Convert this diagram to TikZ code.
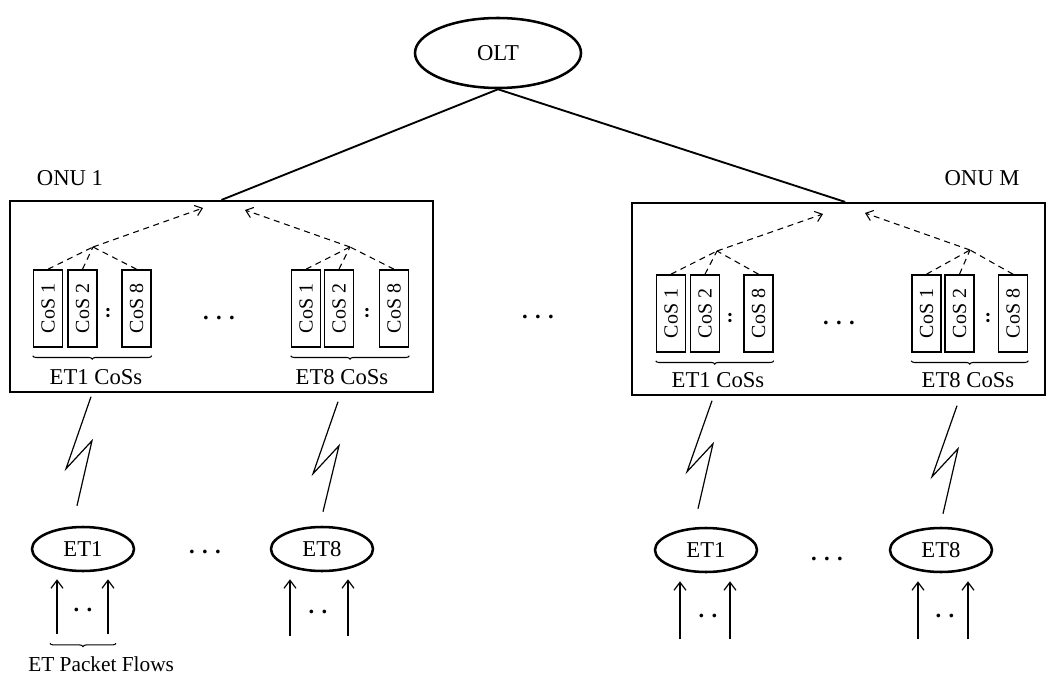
\documentclass[tikz,border=0pt]{standalone}
\usepackage{fontspec}
\setmainfont{Liberation Serif}
\usetikzlibrary{shapes.geometric,arrows.meta,decorations.pathreplacing}

\newcommand{\hdots}{\textbf{.\hspace{5.5pt}.\hspace{5.5pt}.}}
\newcommand{\twodots}{\textbf{.\hspace{5.5pt}.}}

\begin{document}
\begin{tikzpicture}[x=0.75pt,y=-0.75pt,
  lbl/.style={font=\fontsize{17}{20}\selectfont},
  oval/.style={draw, ellipse, line width=1.9pt, inner sep=0pt, lbl},
  onubox/.style={draw, rectangle, line width=1.6pt, inner sep=0pt},
  cos/.style={draw, rotate=90, line width=1.2pt, inner sep=0pt,
    minimum width=57.75pt, minimum height=21.75pt, font=\fontsize{15}{16}\selectfont},
  cosdots/.style={rotate=90, font=\fontsize{15}{16}\selectfont\bfseries},
  link/.style={line width=1.4pt},
  fan/.style={line width=0.8pt, dash pattern=on 4.5pt off 3.5pt},
  tip/.style={-{Straight Barb[length=5pt,width=8pt]}},
  bolt/.style={line width=0.9pt},
  flow/.style={line width=0.9pt, -{Straight Barb[length=6pt,width=9pt]}},
  brc/.style={decorate, decoration={brace, mirror, amplitude=2.5pt}, line width=0.8pt}]

\useasboundingbox (0,0) rectangle (1047,674);

% OLT and the two ONUs
\node[oval, minimum width=124.5pt, minimum height=52.5pt] (olt) at (498,53) {OLT};
\node[onubox, minimum width=317.25pt, minimum height=143.25pt] (onu1) at (221.5,296.5) {};
\node[onubox, minimum width=309.75pt, minimum height=144pt] (onuM) at (838.5,299) {};
\node[lbl] (onu1lbl) at (70,178) {ONU 1};
\node[lbl] (onuMlbl) at (982,178) {ONU M};

\draw[link] (olt.south) -- (onu1.north);
\draw[link] (olt.south) -- ([xshift=5pt]onuM.north);

\node[lbl] (midots) at (538,317) {\hdots};

% ONU 1 queues
\node[cos] (c11) at (48,308.5) {CoS 1};
\node[cos] (c12) at (82.5,308.5) {CoS 2};
\node[cos] (c18) at (136.5,308.5) {CoS 8};
\node[cosdots] (d1q) at (108,313) {.\hspace{1pt}.};
\node[cos] (c81) at (306,308.5) {CoS 1};
\node[cos] (c82) at (339,308.5) {CoS 2};
\node[cos] (c88) at (394,308.5) {CoS 8};
\node[cosdots] (d8q) at (367,313) {.\hspace{1pt}.};
\node[lbl] (g1dots) at (219,318) {\hdots};

\coordinate (j1) at (93,247);
\coordinate (j8) at (350,247);
\coordinate (t1) at (203,208);
\coordinate (t8) at (245,210);
\draw[fan] (c11.east) -- (j1);
\draw[fan] (c12.east) -- (j1);
\draw[fan] (c18.east) -- (j1);
\draw[fan,tip] (j1) -- (t1);
\draw[fan] (c81.east) -- (j8);
\draw[fan] (c82.east) -- (j8);
\draw[fan] (c88.east) -- (j8);
\draw[fan,tip] (j8) -- (t8);

\draw[brc] ([yshift=-6pt]c11.north west) -- ([yshift=-6pt]c18.south west);
\draw[brc] ([yshift=-6pt]c81.north west) -- ([yshift=-6pt]c88.south west);
\node[lbl] (cos1lbl) at (96,377) {ET1 CoSs};
\node[lbl] (cos8lbl) at (342,377) {ET8 CoSs};

% ONU M queues
\node[cos] (m11) at (671,313.5) {CoS 1};
\node[cos] (m12) at (705,313.5) {CoS 2};
\node[cos] (m18) at (758.5,313.5) {CoS 8};
\node[cosdots] (dm1q) at (730,318) {.\hspace{1pt}.};
\node[cos] (m81) at (926.5,313.5) {CoS 1};
\node[cos] (m82) at (959.5,313.5) {CoS 2};
\node[cos] (m88) at (1013,313.5) {CoS 8};
\node[cosdots] (dm8q) at (988,318) {.\hspace{1pt}.};
\node[lbl] (gmdots) at (839,323) {\hdots};

\coordinate (jm1) at (717,251);
\coordinate (jm8) at (970,250);
\coordinate (tm1) at (823,214);
\coordinate (tm8) at (865,213);
\draw[fan] (m11.east) -- (jm1);
\draw[fan] (m12.east) -- (jm1);
\draw[fan] (m18.east) -- (jm1);
\draw[fan,tip] (jm1) -- (tm1);
\draw[fan] (m81.east) -- (jm8);
\draw[fan] (m82.east) -- (jm8);
\draw[fan] (m88.east) -- (jm8);
\draw[fan,tip] (jm8) -- (tm8);

\draw[brc] ([yshift=-6pt]m11.north west) -- ([yshift=-6pt]m18.south west);
\draw[brc] ([yshift=-6pt]m81.north west) -- ([yshift=-6pt]m88.south west);
\node[lbl] (mcos1lbl) at (718,380) {ET1 CoSs};
\node[lbl] (mcos8lbl) at (968,380) {ET8 CoSs};

% end terminals
\node[oval, minimum width=76.5pt, minimum height=33pt] (et1a) at (83,549) {ET1};
\node[oval, minimum width=76.5pt, minimum height=33pt] (et8a) at (322,549) {ET8};
\node[oval, minimum width=76.5pt, minimum height=33pt] (et1b) at (706,550) {ET1};
\node[oval, minimum width=76.5pt, minimum height=33pt] (et8b) at (941,550) {ET8};
\node[lbl] (etdotsa) at (205,552) {\hdots};
\node[lbl] (etdotsb) at (827,559) {\hdots};

% wireless links
\draw[bolt] ([shift={(-6,-20)}]et1a.north) -- ++(15,-65) -- ++(-26,28) -- ++(25,-72);
\draw[bolt] ([shift={(1,-14)}]et8a.north) -- ++(16,-66) -- ++(-26,28) -- ++(25,-72);
\draw[bolt] ([shift={(-8,-18)}]et1b.north) -- ++(15,-65) -- ++(-26,28) -- ++(25,-71);
\draw[bolt] ([shift={(2,-13)}]et8b.north) -- ++(15,-65) -- ++(-26,28) -- ++(25,-71);

% packet flows
\draw[flow] ([shift={(-26,62)}]et1a.south) -- ([shift={(-26,7)}]et1a.south);
\draw[flow] ([shift={(25,62)}]et1a.south) -- ([shift={(25,7)}]et1a.south);
\node[lbl] (fa1) at ([shift={(0,38)}]et1a.south) {\twodots};
\draw[flow] ([shift={(-32,64)}]et8a.south) -- ([shift={(-32,7)}]et8a.south);
\draw[flow] ([shift={(26,64)}]et8a.south) -- ([shift={(26,7)}]et8a.south);
\node[lbl] (fa8) at ([shift={(-4,40)}]et8a.south) {\twodots};
\draw[flow] ([shift={(-26,66)}]et1b.south) -- ([shift={(-26,8)}]et1b.south);
\draw[flow] ([shift={(24,66)}]et1b.south) -- ([shift={(24,8)}]et1b.south);
\node[lbl] (fb1) at ([shift={(2,43)}]et1b.south) {\twodots};
\draw[flow] ([shift={(-23,66)}]et8b.south) -- ([shift={(-23,8)}]et8b.south);
\draw[flow] ([shift={(27,66)}]et8b.south) -- ([shift={(27,8)}]et8b.south);
\node[lbl] (fb8) at ([shift={(4,43)}]et8b.south) {\twodots};

\draw[brc] ([shift={(-33,71)}]et1a.south) -- ([shift={(33,71)}]et1a.south);
\node[anchor=west, inner sep=0pt, font=\fontsize{16}{18}\selectfont] (pflows) at (28,664) {ET Packet Flows};
\end{tikzpicture}
\end{document}
